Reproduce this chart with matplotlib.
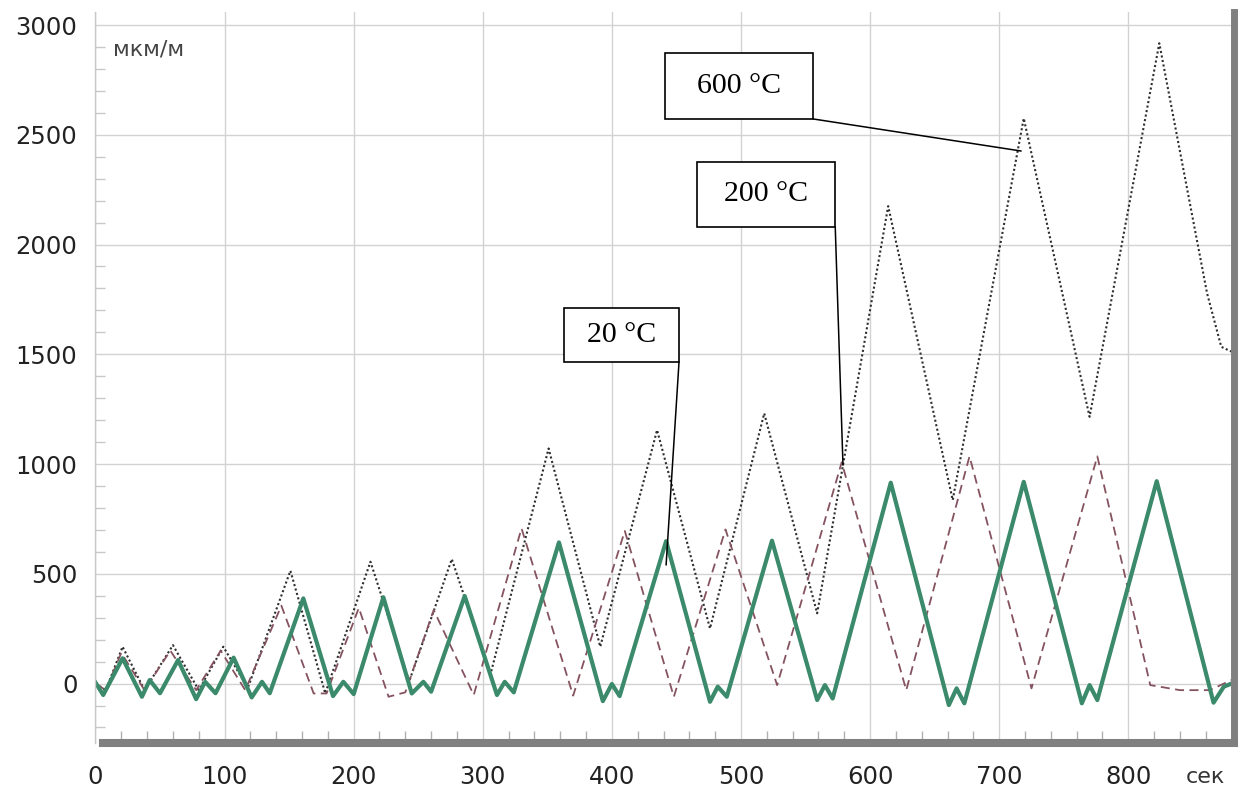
import matplotlib
matplotlib.use('Agg')
import matplotlib.pyplot as plt
from matplotlib.patches import Rectangle
from matplotlib.ticker import MultipleLocator

# время, с / деформация, мкм/м
t_20 = [0, 6, 21, 36, 42, 50, 64, 78, 85, 93, 107, 121, 129, 135, 161, 184, 192, 200,
        223, 245, 254, 260, 286, 311, 317, 324, 359, 393, 400, 406, 442, 476, 482, 489,
        524, 559, 565, 571, 616, 661, 667, 673, 719, 764, 770, 776, 822, 866, 874, 880]
e_20 = [5, -52, 115, -60, 16, -44, 107, -71, 8, -44, 118, -63, 8, -44, 388, -57, 8, -48,
        393, -45, 8, -37, 399, -52, 8, -40, 643, -80, -2, -57, 649, -83, -14, -60,
        651, -75, -7, -68, 915, -98, -22, -90, 919, -90, -7, -75, 922, -87, -14, 0]

t_200 = [0, 8, 20, 38, 58, 78, 97, 116, 144, 169, 179, 204, 227, 240, 262, 293, 330,
         370, 410, 448, 488, 528, 578, 628, 677, 725, 776, 817, 840, 863, 880]
e_200 = [0, -30, 140, -30, 150, -30, 150, -30, 355, -45, -45, 345, -60, -40, 335, -52, 707,
         -55, 695, -60, 702, -7, 1008, -30, 1035, -22, 1035, -7, -30, -30, 16]

t_600 = [0, 8, 21, 38, 60, 80, 99, 118, 151, 178, 213, 243, 276, 306, 351, 391, 435,
         476, 518, 559, 614, 664, 719, 770, 824, 861, 872, 880]
e_600 = [0, -30, 168, -30, 175, -30, 168, -20, 514, -45, 555, 10, 567, 43, 1071, 168, 1155,
         251, 1231, 320, 2175, 836, 2575, 1215, 2917, 1778, 1534, 1512]

labels = ['20 °C', '200 °C', '600 °C']
# точка на кривой, к которой ведёт выноска
label_pts = [(442, 540), (579, 995), (717, 2426)]
# рамки подписей: x0, x1, y0, y1
label_boxes = [(363, 452, 1465, 1711), (466, 573, 2080, 2376), (441, 556, 2572, 2872)]

fig = plt.figure(figsize=(12.43, 7.90), dpi=100)
ax = fig.add_axes([0.0768, 0.0597, 0.9161, 0.9253])

ax.plot(t_600, e_600, color='#2e2e2e', lw=1.5, linestyle=(0, (1, 1.2)))
ax.plot(t_200, e_200, color='#85535f', lw=1.3, linestyle=(0, (5, 3)))
ax.plot(t_20, e_20, color='#3b8a6b', lw=3.0, solid_joinstyle='round')

ax.set_xlim(0, 882)
ax.set_ylim(-270, 3060)
ax.xaxis.set_major_locator(MultipleLocator(100))
ax.xaxis.set_minor_locator(MultipleLocator(20))
ax.yaxis.set_major_locator(MultipleLocator(500))
ax.yaxis.set_minor_locator(MultipleLocator(100))
ax.grid(True, which='major', color='#d2d2d2', lw=1)
ax.set_axisbelow(True)

ax.tick_params(which='major', length=0, labelsize=17.5, labelcolor='#222222')
ax.tick_params(axis='x', which='major', pad=16)
ax.tick_params(axis='y', which='major', pad=13)
ax.tick_params(axis='x', which='minor', direction='in', length=9, color='#b0b0b0', width=1)
ax.tick_params(axis='y', which='minor', direction='in', length=7, color='#c8c8c8', width=1)

ax.spines['top'].set_visible(False)
ax.spines['left'].set_color('#c8c8c8')
ax.spines['left'].set_linewidth(1)
ax.spines['bottom'].set_color('#808080')
ax.spines['bottom'].set_linewidth(5.8)
ax.spines['bottom'].set_bounds(6, 882)
ax.spines['right'].set_color('#808080')
ax.spines['right'].set_linewidth(5.0)

ax.text(0.015, 0.949, 'мкм/м', transform=ax.transAxes, fontsize=16,
        color='#444444', va='center', ha='left')
fig.text(0.954, 0.0165, 'сек', fontsize=16, color='#333333', va='center', ha='left')

for lab, pt, (x0, x1, y0, y1) in zip(labels, label_pts, label_boxes):
    ax.annotate('', xy=pt, xytext=(x1, y0),
                arrowprops=dict(arrowstyle='-', color='black', lw=1.1,
                                shrinkA=0, shrinkB=0))
    ax.add_patch(Rectangle((x0, y0), x1 - x0, y1 - y0, fc='white', ec='black',
                           lw=1.2, zorder=5))
    ax.text((x0 + x1) / 2, (y0 + y1) / 2, lab, ha='center', va='center',
            fontsize=21.5, family='Liberation Serif', color='black', zorder=6)

fig.savefig('out.png', dpi=100)
